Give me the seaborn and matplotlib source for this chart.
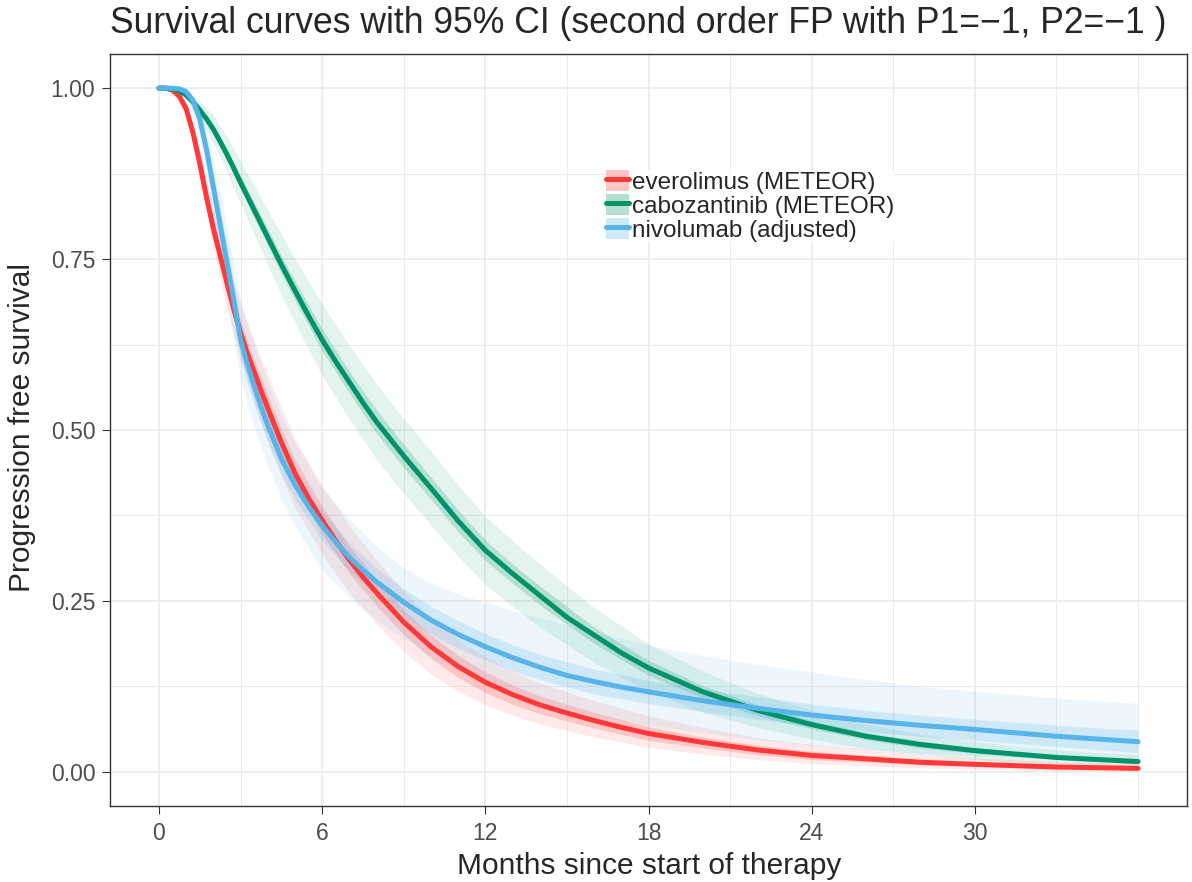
import matplotlib
matplotlib.use("Agg")
import matplotlib.pyplot as plt
from matplotlib.lines import Line2D
from matplotlib.patches import Patch
import pandas as pd
import seaborn as sns

line_months = [0, 0.25, 0.5, 0.75, 1, 1.25, 1.5, 1.75, 2, 2.25, 2.5, 2.75, 3,
               3.25, 3.5, 3.75, 4, 4.5, 5, 5.5, 6, 6.5, 7, 7.5, 8, 9, 10, 11,
               12, 13, 14, 15, 16, 17, 18, 20, 22, 24, 26, 28, 30, 33, 36]
band_months = [0, 0.5, 1, 1.5, 2, 2.5, 3, 3.5, 4, 4.5, 5, 6, 7, 8, 9, 10, 11,
               12, 13, 14, 16, 18, 20, 22, 24, 26, 28, 30, 33, 36]

# everolimus (METEOR)
evero = [1.0, 1.0, 0.997, 0.988, 0.97, 0.935, 0.89, 0.84, 0.795, 0.755, 0.715,
         0.677, 0.642, 0.612, 0.585, 0.558, 0.532, 0.482, 0.437, 0.4, 0.368,
         0.338, 0.31, 0.285, 0.262, 0.219, 0.183, 0.154, 0.131, 0.113, 0.098,
         0.086, 0.075, 0.065, 0.056, 0.043, 0.032, 0.024, 0.019, 0.014, 0.011,
         0.007, 0.005]
evero_out_hi = [1.0, 0.999, 0.98, 0.91, 0.825, 0.752, 0.684, 0.631, 0.58,
                0.532, 0.487, 0.419, 0.36, 0.31, 0.264, 0.225, 0.193, 0.168,
                0.147, 0.13, 0.104, 0.082, 0.065, 0.05, 0.04, 0.033, 0.025,
                0.02, 0.015, 0.012]
evero_out_lo = [1.0, 0.995, 0.96, 0.87, 0.765, 0.678, 0.6, 0.539, 0.484,
                0.432, 0.387, 0.318, 0.262, 0.216, 0.176, 0.143, 0.118, 0.098,
                0.083, 0.07, 0.051, 0.036, 0.026, 0.018, 0.012, 0.009, 0.006,
                0.004, 0.002, 0.001]
evero_in_hi = [1.0, 0.998, 0.974, 0.898, 0.807, 0.73, 0.659, 0.603, 0.551,
               0.502, 0.457, 0.388, 0.33, 0.281, 0.237, 0.2, 0.17, 0.146,
               0.127, 0.111, 0.087, 0.066, 0.051, 0.039, 0.03, 0.024, 0.018,
               0.014, 0.01, 0.008]
evero_in_lo = [1.0, 0.996, 0.966, 0.882, 0.783, 0.7, 0.625, 0.567, 0.513,
               0.462, 0.417, 0.348, 0.29, 0.243, 0.201, 0.166, 0.138, 0.116,
               0.099, 0.085, 0.064, 0.046, 0.035, 0.025, 0.018, 0.014, 0.01,
               0.008, 0.005, 0.003]

# cabozantinib (METEOR)
cabo = [1.0, 1.0, 0.999, 0.996, 0.99, 0.98, 0.968, 0.955, 0.94, 0.922, 0.903,
        0.883, 0.862, 0.842, 0.822, 0.802, 0.782, 0.742, 0.704, 0.667, 0.632,
        0.6, 0.57, 0.54, 0.512, 0.462, 0.415, 0.367, 0.324, 0.29, 0.258,
        0.226, 0.2, 0.174, 0.152, 0.117, 0.09, 0.069, 0.052, 0.04, 0.031,
        0.021, 0.015]
cabo_out_hi = [1.0, 1.0, 0.996, 0.981, 0.96, 0.929, 0.893, 0.858, 0.822,
               0.786, 0.751, 0.684, 0.624, 0.567, 0.517, 0.469, 0.419, 0.374,
               0.338, 0.304, 0.24, 0.187, 0.147, 0.115, 0.09, 0.07, 0.055,
               0.044, 0.032, 0.025]
cabo_out_lo = [1.0, 0.997, 0.984, 0.955, 0.92, 0.877, 0.831, 0.786, 0.742,
               0.698, 0.657, 0.58, 0.516, 0.457, 0.407, 0.361, 0.315, 0.274,
               0.242, 0.212, 0.16, 0.117, 0.087, 0.065, 0.048, 0.034, 0.025,
               0.018, 0.01, 0.005]
cabo_in_hi = [1.0, 0.999, 0.992, 0.972, 0.946, 0.911, 0.871, 0.833, 0.794,
              0.755, 0.718, 0.648, 0.586, 0.529, 0.479, 0.431, 0.383, 0.339,
              0.304, 0.272, 0.212, 0.163, 0.126, 0.098, 0.075, 0.057, 0.045,
              0.035, 0.024, 0.018]
cabo_in_lo = [1.0, 0.998, 0.988, 0.964, 0.934, 0.895, 0.853, 0.811, 0.77,
              0.729, 0.69, 0.616, 0.554, 0.495, 0.445, 0.399, 0.351, 0.309,
              0.276, 0.244, 0.188, 0.141, 0.108, 0.082, 0.063, 0.047, 0.035,
              0.027, 0.018, 0.012]

# nivolumab (adjusted)
nivo = [1.0, 1.0, 1.0, 0.999, 0.995, 0.982, 0.955, 0.91, 0.855, 0.8, 0.745,
        0.69, 0.632, 0.596, 0.564, 0.534, 0.507, 0.458, 0.42, 0.388, 0.36,
        0.336, 0.314, 0.295, 0.278, 0.248, 0.222, 0.201, 0.183, 0.167, 0.153,
        0.141, 0.132, 0.124, 0.117, 0.104, 0.093, 0.083, 0.075, 0.068, 0.062,
        0.052, 0.044]
nivo_out_hi = [1.0, 1.0, 0.998, 0.975, 0.895, 0.8, 0.69, 0.625, 0.568, 0.52,
               0.482, 0.415, 0.37, 0.33, 0.298, 0.276, 0.26, 0.248, 0.236,
               0.225, 0.205, 0.185, 0.17, 0.157, 0.146, 0.135, 0.125, 0.118,
               0.108, 0.10]
nivo_out_lo = [1.0, 1.0, 0.99, 0.93, 0.81, 0.69, 0.575, 0.505, 0.448, 0.398,
               0.36, 0.295, 0.255, 0.222, 0.195, 0.17, 0.148, 0.13, 0.115,
               0.102, 0.082, 0.068, 0.057, 0.047, 0.039, 0.032, 0.027, 0.023,
               0.019, 0.015]
nivo_in_hi = [1.0, 1.0, 0.996, 0.965, 0.875, 0.772, 0.658, 0.589, 0.531,
              0.481, 0.442, 0.381, 0.334, 0.298, 0.268, 0.242, 0.221, 0.202,
              0.186, 0.172, 0.15, 0.134, 0.121, 0.11, 0.099, 0.09, 0.083,
              0.077, 0.068, 0.061]
nivo_in_lo = [1.0, 1.0, 0.994, 0.945, 0.835, 0.718, 0.606, 0.539, 0.483,
              0.435, 0.398, 0.339, 0.294, 0.258, 0.228, 0.202, 0.181, 0.164,
              0.148, 0.135, 0.114, 0.1, 0.088, 0.077, 0.067, 0.059, 0.052,
              0.046, 0.037, 0.028]

labels = ['everolimus (METEOR)', 'cabozantinib (METEOR)', 'nivolumab (adjusted)']
colors = ['#FF3838', '#00936A', '#56B4E9']

curves = [evero, cabo, nivo]
outer = [(evero_out_lo, evero_out_hi), (cabo_out_lo, cabo_out_hi),
         (nivo_out_lo, nivo_out_hi)]
inner = [(evero_in_lo, evero_in_hi), (cabo_in_lo, cabo_in_hi),
         (nivo_in_lo, nivo_in_hi)]

df = pd.concat([pd.DataFrame({'months': line_months, 'surv': s, 'drug': lab})
                for s, lab in zip(curves, labels)], ignore_index=True)

sns.set_style('white')
plt.rcParams['font.family'] = ['Liberation Sans', 'DejaVu Sans']

fig = plt.figure(figsize=(11.92, 8.82), dpi=100)
ax = fig.add_axes([110 / 1192, 1 - 806 / 882, 1077 / 1192, 752 / 882])

# grid like ggplot theme_bw (minor lines thinner)
for x in [3, 9, 15, 21, 27, 33, 36]:
    ax.axvline(x, color='#EBEBEB', lw=0.7, zorder=0)
for y in [0.125, 0.375, 0.625, 0.875]:
    ax.axhline(y, color='#EBEBEB', lw=0.7, zorder=0)
for x in range(0, 31, 6):
    ax.axvline(x, color='#EBEBEB', lw=1.2, zorder=0)
for y in [0, 0.25, 0.5, 0.75, 1.0]:
    ax.axhline(y, color='#EBEBEB', lw=1.2, zorder=0)

for (lo, hi), (ilo, ihi), c in zip(outer, inner, colors):
    ax.fill_between(band_months, lo, hi, color=c, alpha=0.11, lw=0, zorder=1)
    ax.fill_between(band_months, ilo, ihi, color=c, alpha=0.2, lw=0, zorder=1)

sns.lineplot(data=df, x='months', y='surv', hue='drug', hue_order=labels,
             palette=dict(zip(labels, colors)), lw=3.6, legend=False, ax=ax,
             zorder=3)
for ln in ax.get_lines():
    ln.set_solid_joinstyle('round')

ax.set_xlim(-1.8, 37.8)
ax.set_ylim(-0.05, 1.05)
ax.set_xticks(range(0, 31, 6))
ax.set_yticks([0, 0.25, 0.5, 0.75, 1.0])
ax.set_yticklabels(['0.00', '0.25', '0.50', '0.75', '1.00'])
ax.tick_params(length=5.8, width=0.8, color='#333333', labelsize=16.5,
               labelcolor='#4D4D4D', left=True, bottom=True)
ax.tick_params(axis='y', pad=4.8)
ax.tick_params(axis='x', pad=5.4)
ax.set_xlabel('')
ax.set_ylabel('')
for sp in ax.spines.values():
    sp.set_color('#333333')
    sp.set_linewidth(1.0)

fig.text(649 / 1192, 1 - 866 / 882, 'Months since start of therapy',
         fontsize=21.5, ha='center', va='center')
fig.text(22 / 1192, 1 - 427 / 882, 'Progression free survival',
         fontsize=21.5, ha='center', va='center', rotation=90)
fig.text(110 / 1192, 1 - 33 / 882,
         'Survival curves with 95% CI (second order FP with P1=\u22121, P2=\u22121 )',
         fontsize=25.6, ha='left', va='baseline')

handles = []
for c in colors:
    handles.append((Patch(facecolor=c, alpha=0.29, lw=0),
                    Line2D([], [], color=c, lw=3.6)))
leg = ax.legend(handles, labels, loc='upper left',
                bbox_to_anchor=(606 / 1192, 1 - 170 / 882),
                bbox_transform=fig.transFigure, frameon=True, fontsize=17.5,
                handlelength=0.95, handleheight=0.95, handletextpad=0.12,
                labelspacing=0.0, borderpad=0.0, borderaxespad=0.0,
                fancybox=False)
leg.get_frame().set_edgecolor('none')
leg.get_frame().set_facecolor('white')

fig.savefig('out.png', dpi=100)
